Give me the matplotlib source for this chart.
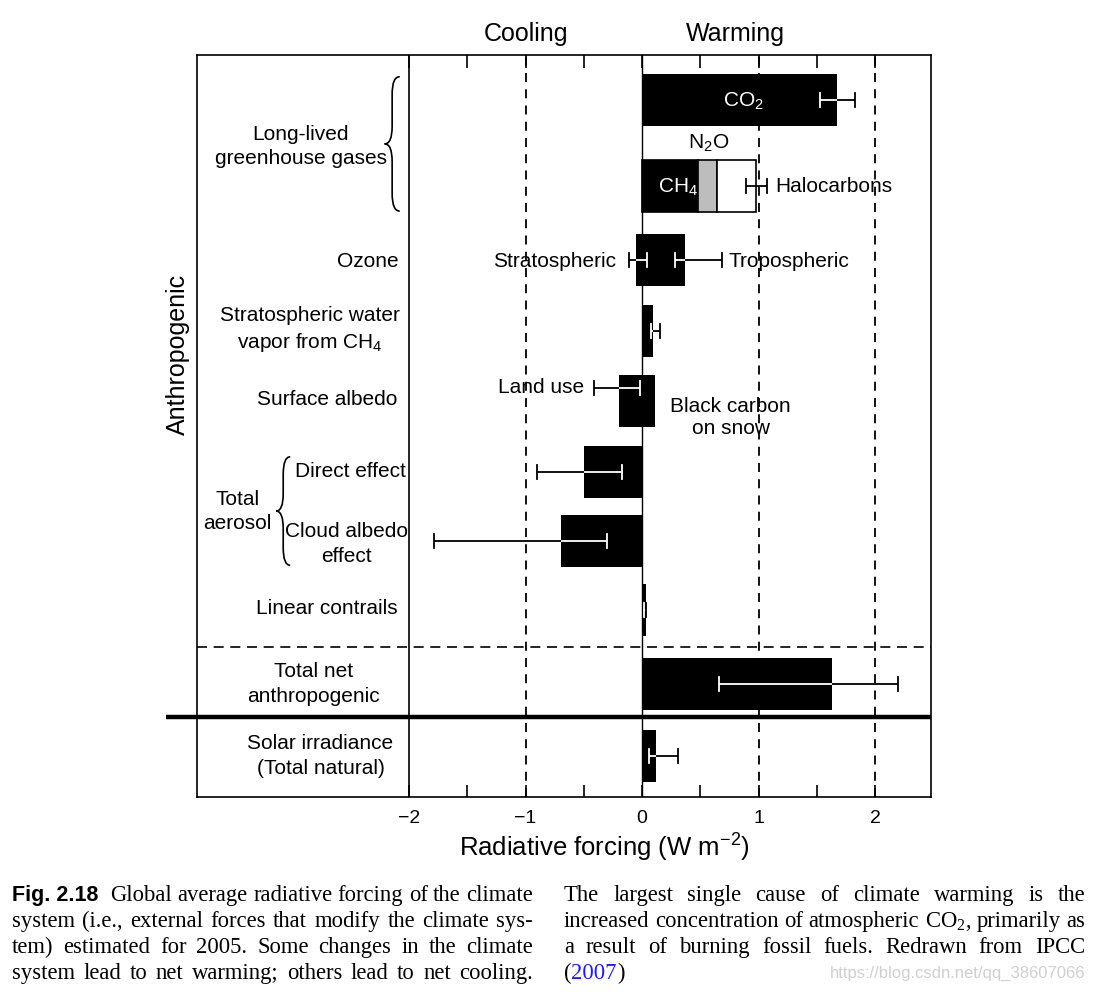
import matplotlib
matplotlib.use('Agg')
import matplotlib.pyplot as plt
from matplotlib.path import Path
from matplotlib.patches import PathPatch

plt.rcParams['font.family'] = ['Liberation Sans', 'DejaVu Sans']

W, H = 1102, 995

# row centres, top to bottom
row_pos = [0.64, 1.87, 2.93, 3.94, 4.94, 5.96, 6.94, 7.93, 8.99, 10.01]

# plain black bars (row index, value in W m-2)
bar_rows = [0, 2, 2, 3, 4, 4, 5, 6, 7, 8, 9]
bar_vals = [1.67, -0.05, 0.37, 0.09, -0.20, 0.11, -0.50, -0.70, 0.03, 1.63, 0.12]

# long-lived greenhouse gases, stacked in row 1
ghg_names = ['CH4', 'N2O', 'Halocarbons']
ghg_vals = [0.48, 0.16, 0.34]
ghg_colors = ['black', '#bdbdbd', 'white']

# uncertainty ranges
err_rows = [0, 1, 2, 2, 3, 4, 5, 6, 7, 8, 9]
err_lo = [1.53, 0.89, -0.11, 0.28, 0.08, -0.41, -0.90, -1.79, 0.015, 0.66, 0.06]
err_hi = [1.83, 1.07, 0.04, 0.69, 0.15, -0.02, -0.17, -0.30, 0.035, 2.20, 0.31]
err_dy = [0, 0, 0, 0, 0, -0.19, 0, 0, 0, 0, 0]

row_labels = ['Long-lived\ngreenhouse gases', 'Ozone',
              'Stratospheric water\nvapor from CH$_\\mathregular{4}$',
              'Surface albedo', 'Direct effect', 'Cloud albedo\neffect',
              'Linear contrails', 'Total net\nanthropogenic',
              'Solar irradiance\n(Total natural)']
label_x = [-2.93, -2.35, -2.85, -2.70, -2.50, -2.54, -2.71, -2.82, -2.76]
label_y = [1.29, 2.93, 3.91, 4.91, 5.93, 6.97, 7.89, 8.97, 10.0]

tick_vals = [-2, -1, 0, 1, 2]
tick_labels = ['\u22122', '\u22121', '0', '1', '2']

fig = plt.figure(figsize=(W / 100, H / 100), dpi=100)
ax = fig.add_axes([197 / W, 1 - 798 / H, (931 - 197) / W, (798 - 56) / H])
ax.set_xlim(-3.82, 2.48)
ax.set_ylim(10.6, 0)
for s in ax.spines.values():
    s.set_linewidth(1.2)

bh = 0.74
# reference lines
ax.axvline(-2, color='black', lw=1.2, zorder=1)
ax.axvline(0, color='black', lw=1.0, zorder=1)
for v in [-1, 1, 2]:
    ax.axvline(v, color='black', lw=1.3, ls=(0, (5, 4)), zorder=1)
ax.axhline(8.46, color='black', lw=1.2, ls=(0, (6, 4)), zorder=1)
ax.plot([-4.09, 2.48], [9.46, 9.46], color='black', lw=3.2, clip_on=False,
        solid_capstyle='butt', zorder=3)

# bars
black_spans = {}
for r, v in zip(bar_rows, bar_vals):
    ax.barh(row_pos[r], v, height=bh, color='black', zorder=2)
    black_spans.setdefault(r, []).append((min(0, v), max(0, v)))

left = 0
for v, c in zip(ghg_vals, ghg_colors):
    ax.barh(row_pos[1], v, left=left, height=bh, color=c,
            edgecolor='black', lw=1.2, zorder=2)
    if c == 'black':
        black_spans.setdefault(1, []).append((left, left + v))
    left += v


def inside(r, x):
    return any(a < x < b for a, b in black_spans.get(r, []))


# error bars: white where they cross a black bar
cap = 0.1
for r, lo, hi, dy in zip(err_rows, err_lo, err_hi, err_dy):
    y = row_pos[r] + dy
    cuts = sorted({lo, hi} | {e for a, b in black_spans.get(r, []) for e in (a, b) if lo < e < hi})
    for a, b in zip(cuts[:-1], cuts[1:]):
        c = 'white' if inside(r, (a + b) / 2) else 'black'
        ax.plot([a, b], [y, y], color=c, lw=1.3, zorder=4, solid_capstyle='butt')
    for x in (lo, hi):
        c = 'white' if inside(r, x) else 'black'
        ax.plot([x, x], [y - cap, y + cap], color=c, lw=1.3, zorder=4)


def brace(x, y0, y1, w):
    ym = (y0 + y1) / 2
    xm = x + w / 2
    r = min(0.25, (y1 - y0) / 6)
    verts = [(x + w, y0), (xm, y0), (xm, y0 + r), (xm, ym - r), (xm, ym), (x, ym),
             (xm, ym), (xm, ym + r), (xm, y1 - r), (xm, y1), (x + w, y1)]
    codes = [Path.MOVETO, Path.CURVE3, Path.CURVE3, Path.LINETO, Path.CURVE3, Path.CURVE3,
             Path.CURVE3, Path.CURVE3, Path.LINETO, Path.CURVE3, Path.CURVE3]
    ax.add_patch(PathPatch(Path(verts, codes), fill=False, lw=1.2, zorder=3))


brace(-2.21, 0.31, 2.23, 0.13)
brace(-3.14, 5.74, 7.29, 0.12)

fs = 15
for s, x, y in zip(row_labels, label_x, label_y):
    ax.text(x, y, s, ha='center', va='center', fontsize=fs, linespacing=1.35)
ax.text(-3.47, 6.51, 'Total\naerosol', ha='center', va='center', fontsize=fs, linespacing=1.35)
ax.text(-3.98, 4.27, 'Anthropogenic', rotation=90, ha='center', va='center',
        fontsize=18, clip_on=False)

# annotations on the bars
ax.text(0.87, row_pos[0], 'CO$_\\mathregular{2}$', color='white', ha='center', va='center', fontsize=fs, zorder=5)
ax.text(0.31, row_pos[1], 'CH$_\\mathregular{4}$', color='white', ha='center', va='center', fontsize=fs, zorder=5)
ax.text(0.57, 1.24, 'N$_\\mathregular{2}$O', ha='center', va='center', fontsize=fs)
ax.text(1.14, row_pos[1], 'Halocarbons', ha='left', va='center', fontsize=fs)
ax.text(-0.22, row_pos[2], 'Stratospheric', ha='right', va='center', fontsize=fs)
ax.text(0.74, row_pos[2], 'Tropospheric', ha='left', va='center', fontsize=fs)
ax.text(-0.50, 4.74, 'Land use', ha='right', va='center', fontsize=fs)
ax.text(0.76, 5.16, 'Black carbon\non snow', ha='center', va='center', fontsize=fs, linespacing=1.2)

ax.text(-1.0, -0.31, 'Cooling', ha='center', va='center', fontsize=18, clip_on=False)
ax.text(0.80, -0.31, 'Warming', ha='center', va='center', fontsize=18, clip_on=False)

ax.set_xticks(tick_vals)
ax.set_xticklabels(tick_labels)
ax.set_xticks([-1.5, -0.5, 0.5, 1.5], minor=True)
ax.tick_params(axis='x', which='both', direction='in', top=True, length=9, width=1.2,
               labelsize=14, pad=9)
ax.set_yticks([])
ax.text(-0.32, 11.29, 'Radiative forcing (W m$^{\\mathregular{-2}}$)', ha='center', va='center',
        fontsize=18.5, clip_on=False)

# caption, set as justified lines
renderer = fig.canvas.get_renderer()
serif = dict(family='Liberation Serif', size=16.3)


def put_line(words, x0, x1, yb, justify=True):
    items = []
    for w in words:
        s, kw = (w, serif) if isinstance(w, str) else w
        items.append(fig.text(0, 1 - yb / H, s, va='baseline', ha='left', **kw))
    widths = [t.get_window_extent(renderer).width for t in items]
    if justify and len(items) > 1:
        gap = (x1 - x0 - sum(widths)) / (len(items) - 1)
    else:
        gap = 0
    x = x0
    for t, w in zip(items, widths):
        t.set_x(x / W)
        x += w + gap


figno = fig.text(12 / W, 1 - 901 / H, 'Fig. 2.18', va='baseline', ha='left',
                 family='Liberation Sans', weight='bold', size=15.5)
fw = figno.get_window_extent(renderer).width
put_line('Global average radiative forcing of the climate'.split(), 12 + fw + 12, 533, 901)
put_line('system (i.e., external forces that modify the climate sys-'.split(), 12, 533, 927)
put_line('tem) estimated for 2005. Some changes in the climate'.split(), 12, 533, 953)
put_line('system lead to net warming; others lead to net cooling.'.split(), 12, 533, 979)

put_line('The largest single cause of climate warming is the'.split(), 564, 1085, 901)
put_line('increased concentration of atmospheric CO$_\\mathregular{2}$, primarily as'.split(), 564, 1085, 927)
put_line('a result of burning fossil fuels. Redrawn from IPCC'.split(), 564, 1085, 953)
put_line(['(', ('2007', dict(serif, color='#1a1aff')), ')'], 564, 1085, 979, justify=False)

fig.text(1085 / W, 1 - 978 / H, 'https://blog.csdn.net/qq_38607066', ha='right', va='baseline',
         color='#d0d0d0', size=12)

fig.savefig('out.png', dpi=100)
